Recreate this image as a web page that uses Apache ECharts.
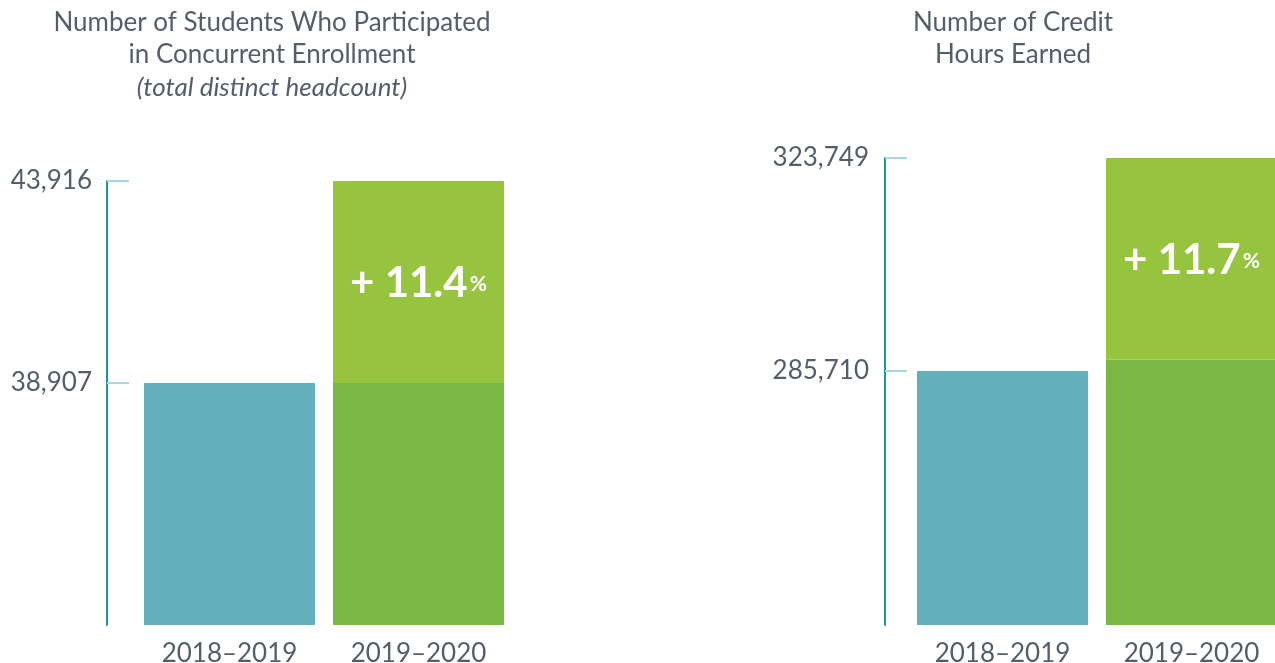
<!DOCTYPE html>
<html>
<head>
<meta charset="utf-8">
<script src="https://cdn.jsdelivr.net/npm/echarts@6/dist/echarts.min.js"></script>
<style>
  html, body { margin: 0; padding: 0; background: #ffffff; }
  #chart { width: 1275px; height: 663px; }
</style>
</head>
<body>
<div id="chart"></div>
<script>
// ---- data ----
const categories = ['2018–2019', '2019–2020'];
// Chart 1: students (distinct headcount)
const studentsValues = [38907, 43916];
const studentsBaseSegment = 38907;     // darker lower part of the 2019–2020 bar
const studentsTicks = [38907, 43916];
const studentsChange = '11.4';
// Chart 2: credit hours earned
const creditValues = [285710, 323749];
const creditBaseSegment = 287700;      // darker lower part of the 2019–2020 bar (as drawn)
const creditTicks = [285710, 323749];
const creditChange = '11.7';

const titles = [
  'Number of Students Who Participated\nin Concurrent Enrollment\n{i|(total distinct headcount)}',
  'Number of Credit\nHours Earned'
];

// ---- styling ----
const FONT = 'Lato, "Noto Sans", sans-serif';
const GRAY = '#545e6a';
const TEAL = '#63afbb';
const DARK_GREEN = '#7ab744';
const LIGHT_GREEN = '#96c43f';
const AXIS_TEAL = '#1797ab';
const TICK_TEAL = '#a2d9e2';

function fmt(v) { return v.toLocaleString('en-US'); }

function yAxisFor(gridIndex, min, max, ticks, offset, margin) {
  return {
    gridIndex, type: 'value', min, max, offset,
    splitLine: { show: false },
    axisLine: { show: true, lineStyle: { color: AXIS_TEAL, width: 2 } },
    axisTick: { show: true, inside: true, length: 22, customValues: ticks,
                lineStyle: { color: TICK_TEAL, width: 2 } },
    axisLabel: { show: true, customValues: ticks, margin,
                 formatter: v => fmt(v),
                 color: GRAY, fontFamily: FONT, fontSize: 26 }
  };
}
function xAxisFor(gridIndex) {
  return {
    gridIndex, type: 'category', data: categories, boundaryGap: false,
    axisLine: { show: false }, axisTick: { show: false },
    axisLabel: { color: GRAY, fontFamily: FONT, fontSize: 26, margin: 16 }
  };
}
function seriesFor(idx, values, baseSeg, change) {
  const stack = 's' + idx;
  return [
    {
      type: 'bar', xAxisIndex: idx, yAxisIndex: idx, stack, barWidth: 171,
      silent: true,
      data: [
        { value: values[0], itemStyle: { color: TEAL } },
        { value: baseSeg, itemStyle: { color: DARK_GREEN } }
      ]
    },
    {
      type: 'bar', xAxisIndex: idx, yAxisIndex: idx, stack, barWidth: 171,
      silent: true,
      itemStyle: { color: LIGHT_GREEN },
      data: ['-', values[1] - baseSeg],
      label: {
        show: true, position: 'inside', offset: [0, 2],
        formatter: () => '{a|+ ' + change + '}{b|%}',
        rich: {
          a: { color: '#ffffff', fontFamily: FONT, fontWeight: 'bold', fontSize: 42 },
          b: { color: '#ffffff', fontFamily: FONT, fontWeight: 'bold', fontSize: 21, padding: [0, 0, 0, 2] }
        }
      }
    }
  ];
}

const chart = echarts.init(document.getElementById('chart'), null, { renderer: 'canvas' });
chart.setOption({
  animation: false,
  backgroundColor: '#ffffff',
  title: [
    {
      text: titles[0], left: 272, top: 6, padding: 0, textAlign: 'center',
      textStyle: { color: GRAY, fontFamily: FONT, fontWeight: 'normal', fontSize: 26, lineHeight: 32.5,
                   rich: { i: { color: GRAY, fontFamily: FONT, fontStyle: 'italic', fontSize: 26, lineHeight: 32.5 } } }
    },
    {
      text: titles[1], left: 1013, top: 7, padding: 0, textAlign: 'center',
      textStyle: { color: GRAY, fontFamily: FONT, fontWeight: 'normal', fontSize: 26, lineHeight: 32 }
    }
  ],
  grid: [
    { left: 229.5, width: 189, top: 181, bottom: 38, outerBoundsMode: 'none', containLabel: false },
    { left: 1002.5, width: 189, top: 158, bottom: 38, outerBoundsMode: 'none', containLabel: false }
  ],
  xAxis: [xAxisFor(0), xAxisFor(1)],
  yAxis: [
    yAxisFor(0, 32900, studentsTicks[1], studentsTicks, 122.5, 15),
    yAxisFor(1, 240350, creditTicks[1], creditTicks, 117.5, 16)
  ],
  series: [
    ...seriesFor(0, studentsValues, studentsBaseSegment, studentsChange),
    ...seriesFor(1, creditValues, creditBaseSegment, creditChange)
  ]
});
</script>
</body>
</html>
